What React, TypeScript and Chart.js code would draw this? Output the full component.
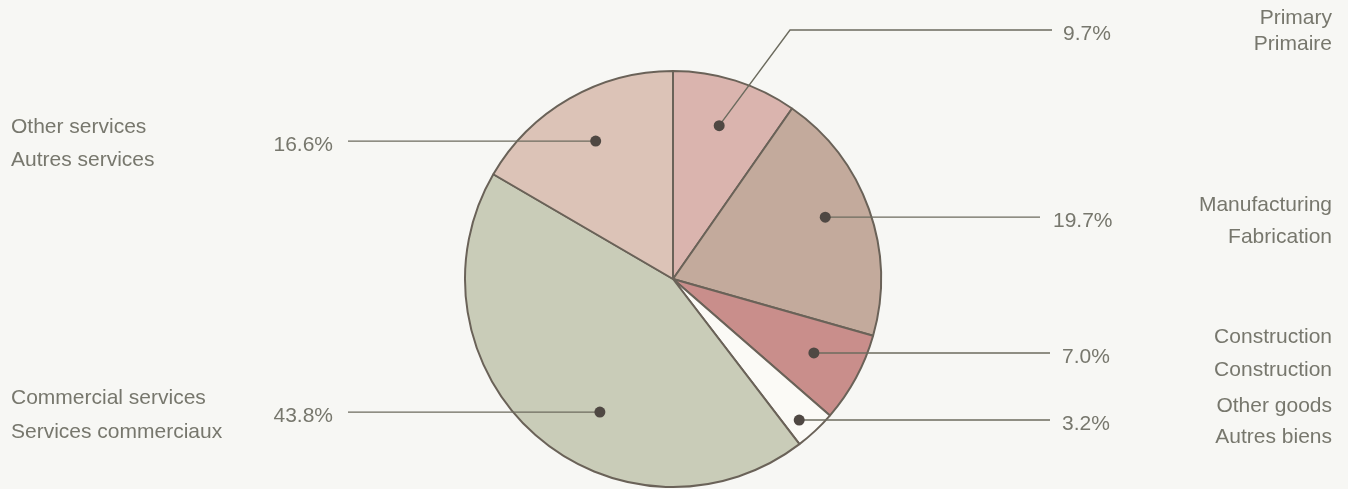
import React, { useEffect, useRef } from "react";
import { Chart, registerables } from "chart.js";

Chart.register(...registerables);

// ---- data ----
const categoriesEn = ["Primary", "Manufacturing", "Construction", "Other goods", "Commercial services", "Other services"];
const categoriesFr = ["Primaire", "Fabrication", "Construction", "Autres biens", "Services commerciaux", "Autres services"];
const shares = [9.7, 19.7, 7.0, 3.2, 43.8, 16.6];

// ---- style ----
const sliceColors = ["#dab4ae", "#c3aa9c", "#c98e8b", "#fbfaf6", "#c9ccb8", "#dcc3b7"];
const BG = "#f7f7f4";
const TEXT = "#77776d";
const LINE = "#6c6b5e";
const DOT = "#4f4843";
const FONT = '21px "Liberation Sans", Arial, sans-serif';

// per-slice annotation layout (style only)
type Ann = {
  f: number; // fraction along the slice angle for the dot
  rf: number; // fraction of radius for the dot
  side: "L" | "R";
  elbow?: { x: number; y: number };
  lineEnd: number;
  pctX: number;
  nameY: [number, number];
};
const annLayout: Ann[] = [
  { f: 0.48, rf: 0.77, side: "R", elbow: { x: 790, y: 30 }, lineEnd: 1052, pctX: 1063, nameY: [18, 44] },
  { f: 0.465, rf: 0.79, side: "R", lineEnd: 1040, pctX: 1053, nameY: [205, 237] },
  { f: 0.47, rf: 0.765, side: "R", lineEnd: 1050, pctX: 1062, nameY: [337, 370] },
  { f: 0.62, rf: 0.91, side: "R", lineEnd: 1050, pctX: 1062, nameY: [406, 437] },
  { f: 0.42, rf: 0.73, side: "L", lineEnd: 348, pctX: 333, nameY: [398, 432] },
  { f: 0.51, rf: 0.76, side: "L", lineEnd: 348, pctX: 333, nameY: [127, 160] },
];

const annotationPlugin = {
  id: "annotations",
  beforeDraw(chart: any) {
    const ctx = chart.ctx;
    ctx.save();
    ctx.fillStyle = BG;
    ctx.fillRect(0, 0, chart.width, chart.height);
    ctx.restore();
  },
  afterDraw(chart: any) {
    const ctx = chart.ctx;
    const meta = chart.getDatasetMeta(0);
    ctx.save();
    ctx.font = FONT;
    meta.data.forEach((arc: any, i: number) => {
      const a = annLayout[i];
      const p = arc.getProps(["x", "y", "startAngle", "endAngle", "outerRadius"], true);
      const ang = p.startAngle + a.f * (p.endAngle - p.startAngle);
      const r = a.rf * p.outerRadius;
      const dx = p.x + Math.cos(ang) * r;
      const dy = p.y + Math.sin(ang) * r;
      const lineY = a.elbow ? a.elbow.y : dy;

      // leader line
      ctx.strokeStyle = LINE;
      ctx.lineWidth = 1.4;
      ctx.beginPath();
      ctx.moveTo(dx, dy);
      if (a.elbow) ctx.lineTo(a.elbow.x, a.elbow.y);
      ctx.lineTo(a.lineEnd, lineY);
      ctx.stroke();

      // dot
      ctx.fillStyle = DOT;
      ctx.beginPath();
      ctx.arc(dx, dy, 5.5, 0, Math.PI * 2);
      ctx.fill();

      // percentage
      ctx.fillStyle = TEXT;
      ctx.textBaseline = "middle";
      ctx.textAlign = a.side === "R" ? "left" : "right";
      ctx.fillText(shares[i].toFixed(1) + "%", a.pctX, lineY + 4);

      // category names
      if (a.side === "R") {
        ctx.textAlign = "right";
        ctx.fillText(categoriesEn[i], 1332, a.nameY[0]);
        ctx.fillText(categoriesFr[i], 1332, a.nameY[1]);
      } else {
        ctx.textAlign = "left";
        ctx.fillText(categoriesEn[i], 11, a.nameY[0]);
        ctx.fillText(categoriesFr[i], 11, a.nameY[1]);
      }
    });
    ctx.restore();
  },
};

export default function App() {
  const ref = useRef<HTMLCanvasElement | null>(null);
  useEffect(() => {
    if (!ref.current) return;
    const chart = new Chart(ref.current, {
      type: "pie",
      data: {
        labels: categoriesEn,
        datasets: [
          {
            data: shares,
            backgroundColor: sliceColors,
            borderColor: "#6a6258",
            borderWidth: 2,
            hoverBorderWidth: 2,
          },
        ],
      },
      options: {
        animation: false,
        responsive: true,
        maintainAspectRatio: false,
        layout: { padding: { top: 70, bottom: 1, left: 0, right: 2 } },
        plugins: {
          legend: { display: false },
          tooltip: { enabled: false },
        },
        events: [],
      },
      plugins: [annotationPlugin],
    });
    return () => chart.destroy();
  }, []);
  return (
    <div style={{ position: "fixed", left: 0, top: 0, width: 1348, height: 489, background: BG }}>
      <canvas ref={ref} />
    </div>
  );
}
